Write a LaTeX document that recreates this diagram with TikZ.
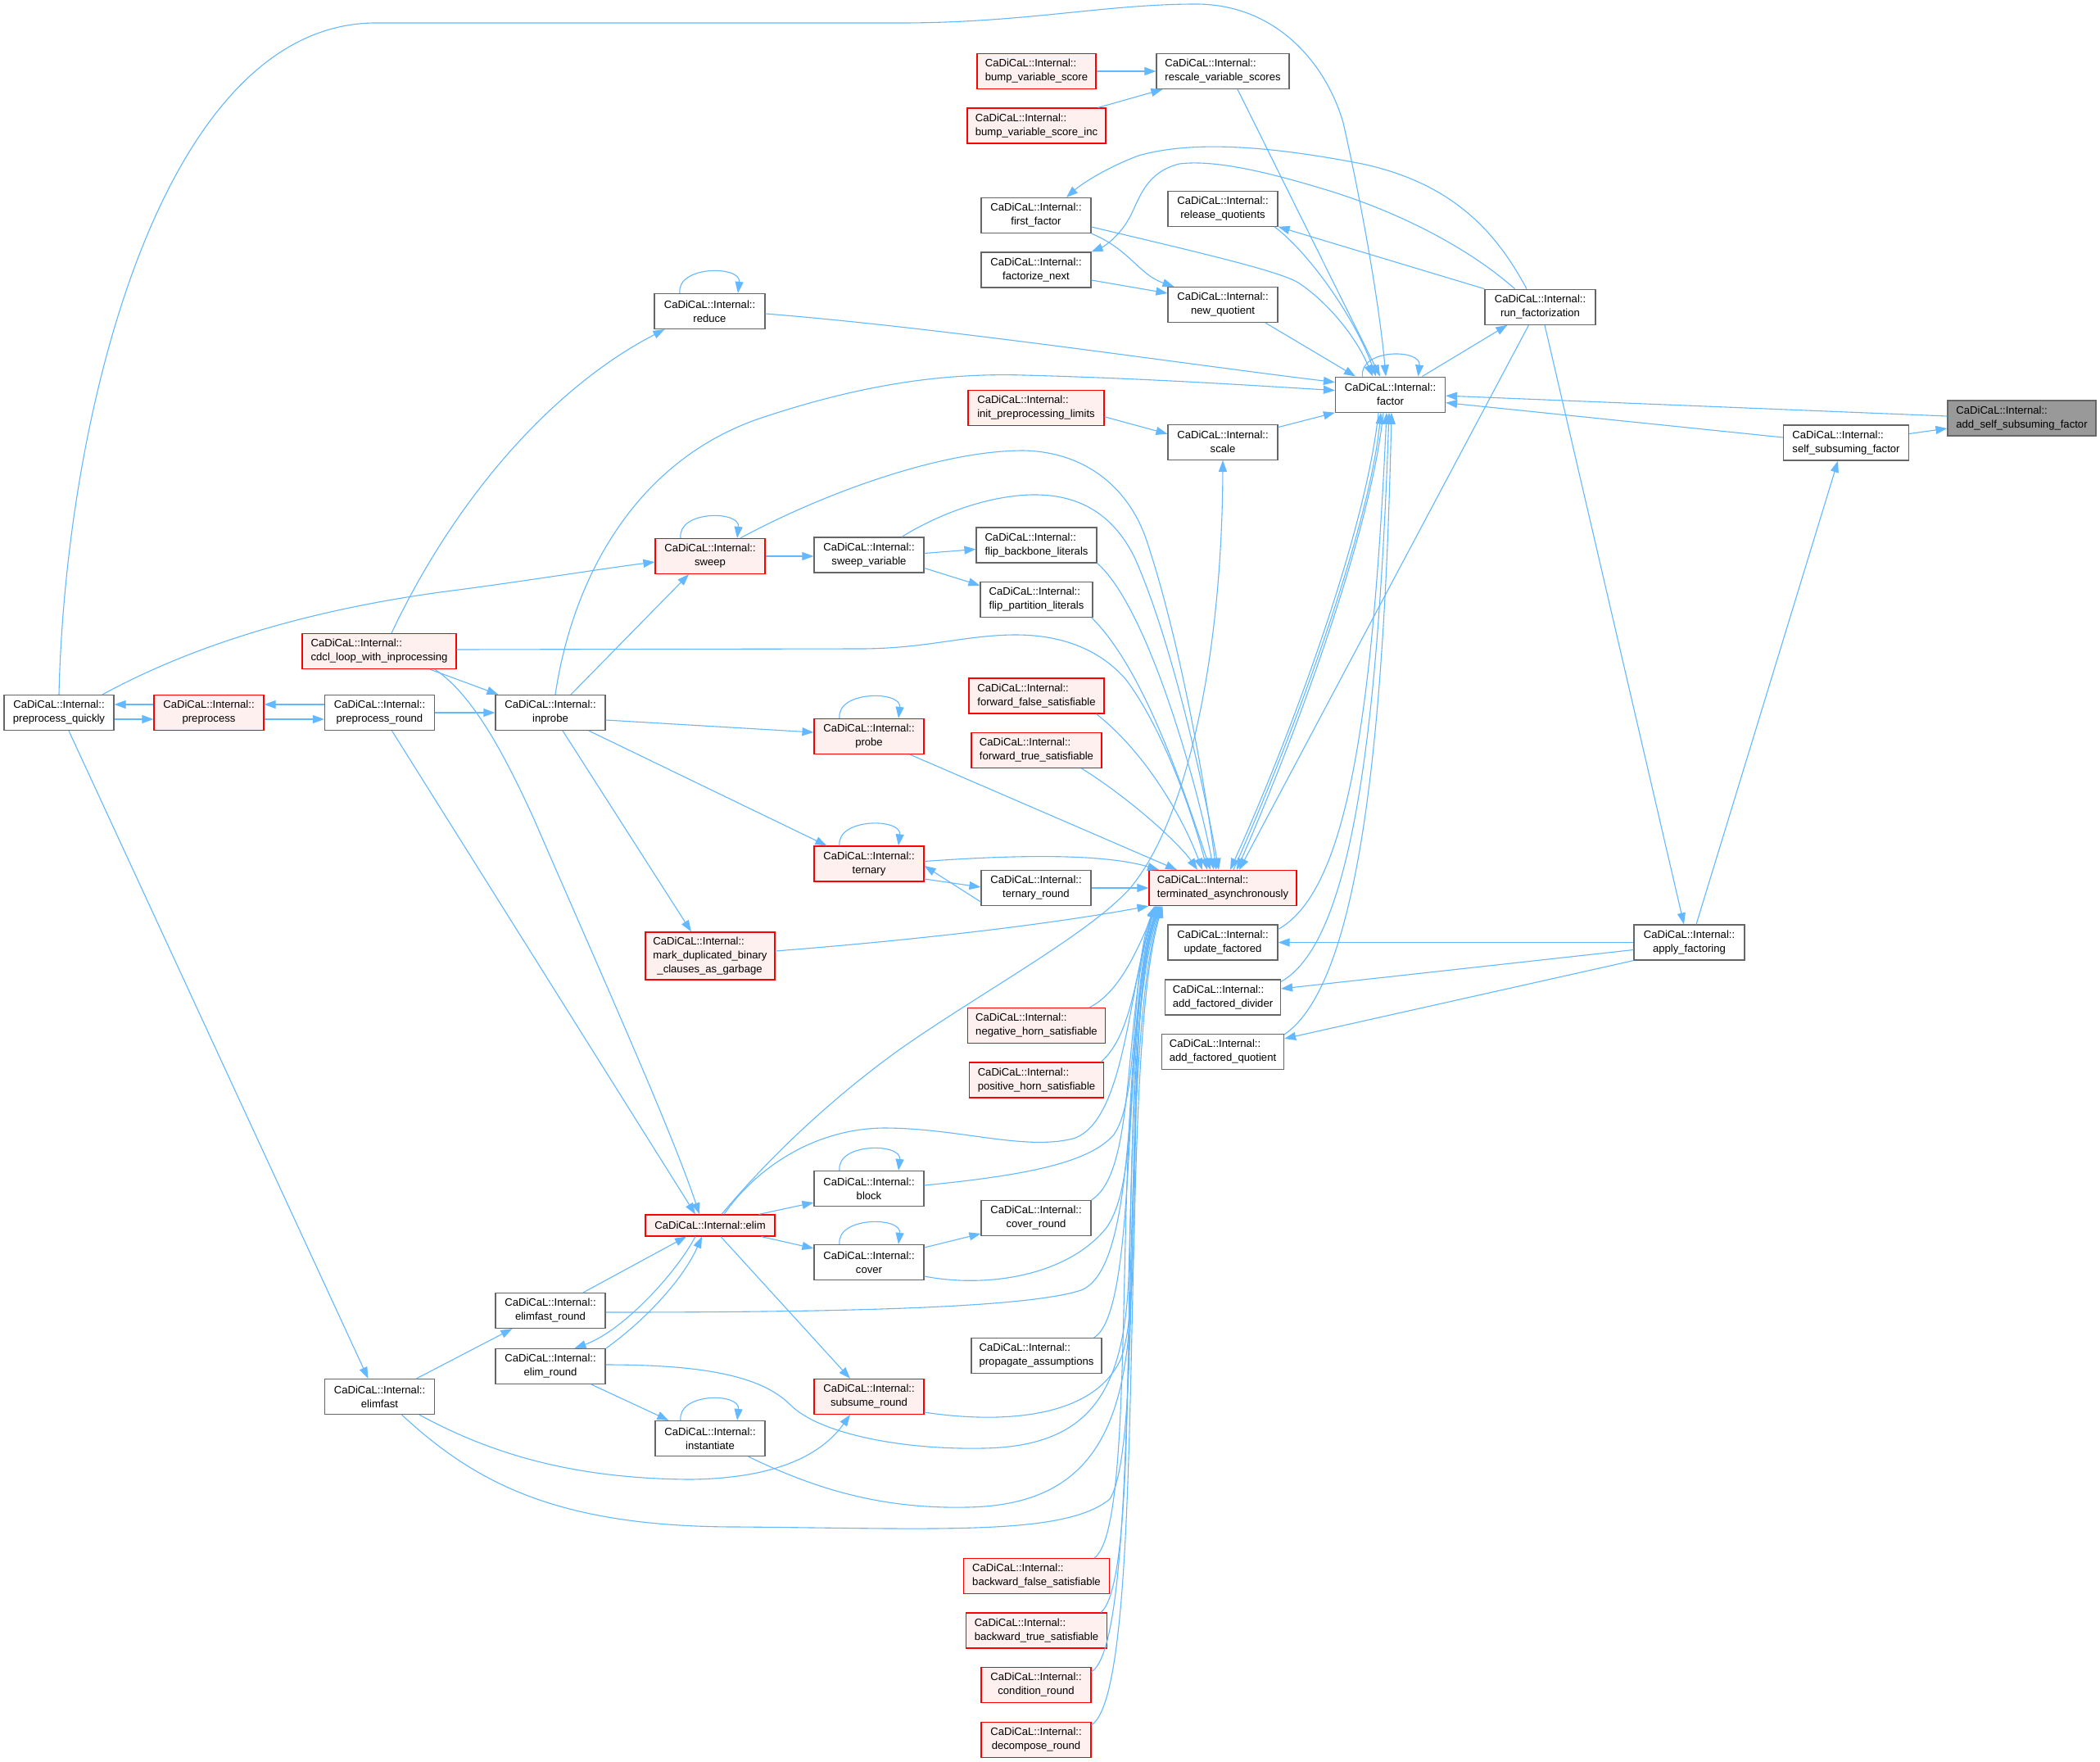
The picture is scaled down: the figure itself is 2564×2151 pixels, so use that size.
\documentclass[tikz,border=0pt]{standalone}
\usepackage{fontspec}
\setmainfont{Liberation Sans}
\usetikzlibrary{arrows.meta}
\definecolor{edgec}{HTML}{63B8FF}
\definecolor{grayb}{HTML}{666666}
\definecolor{redfill}{HTML}{FFF0F0}
\definecolor{rootfill}{HTML}{999999}
\begin{document}
\begin{tikzpicture}[x=1pt,y=-1pt,
  every node/.style={font=\fontsize{13.1}{17}\selectfont},
  nd/.style={draw=grayb, fill=white, line width=1.2pt, rectangle, inner xsep=4pt, inner ysep=0pt, minimum height=43pt, align=center},
  ndl/.style={nd, align=left},
  rd/.style={nd, draw=red, fill=redfill},
  rdl/.style={rd, align=left},
  rootl/.style={ndl, fill=rootfill},
  lnk/.style={draw=edgec, line width=1.1pt, -{Triangle[length=14pt,width=10pt]}},
]
\fill[white] (0,0) rectangle (2564,2151);
\useasboundingbox (0,0) rectangle (2564,2151);

% ---------- nodes ----------
\node[rootl, minimum width=181pt] (ASF) at (2468.5,510.5) {CaDiCaL::Internal::\\add\_self\_subsuming\_factor};
\node[ndl, minimum width=153pt] (SSF) at (2254,540.5) {CaDiCaL::Internal::\\self\_subsuming\_factor};
\node[nd, minimum width=135pt] (APP) at (2062.5,1150.5) {CaDiCaL::Internal::\\apply\_factoring};
\node[nd, minimum width=135pt] (RUN) at (1880.5,374.7) {CaDiCaL::Internal::\\run\_factorization};
\node[nd, minimum width=134pt] (FAC) at (1697.5,481.6) {CaDiCaL::Internal::\\factor};
\node[ndl, minimum width=162pt] (RES) at (1493,87) {CaDiCaL::Internal::\\rescale\_variable\_scores};
\node[nd, minimum width=134pt] (RQ) at (1493,254.7) {CaDiCaL::Internal::\\release\_quotients};
\node[nd, minimum width=134pt] (NQ) at (1493,372) {CaDiCaL::Internal::\\new\_quotient};
\node[nd, minimum width=134pt] (SCA) at (1493,539.7) {CaDiCaL::Internal::\\scale};
\node[rdl, minimum width=180pt] (TA) at (1493,1084) {CaDiCaL::Internal::\\terminated\_asynchronously};
\node[nd, minimum width=134pt] (UF) at (1493,1150.5) {CaDiCaL::Internal::\\update\_factored};
\node[ndl, minimum width=141pt] (AFD) at (1493,1217.5) {CaDiCaL::Internal::\\add\_factored\_divider};
\node[ndl, minimum width=149pt] (AFQ) at (1493,1284) {CaDiCaL::Internal::\\add\_factored\_quotient};
\node[rdl, minimum width=145pt] (BVS) at (1265.5,87) {CaDiCaL::Internal::\\bump\_variable\_score};
\node[rdl, minimum width=169pt] (BVI) at (1265.5,153.5) {CaDiCaL::Internal::\\bump\_variable\_score\_inc};
\node[nd, minimum width=134pt] (FF) at (1265,263) {CaDiCaL::Internal::\\first\_factor};
\node[nd, minimum width=134pt] (FN) at (1265,329.5) {CaDiCaL::Internal::\\factorize\_next};
\node[rdl, minimum width=166pt] (IPL) at (1265,497.8) {CaDiCaL::Internal::\\init\_preprocessing\_limits};
\node[ndl, minimum width=147pt] (FBL) at (1265.5,665.5) {CaDiCaL::Internal::\\flip\_backbone\_literals};
\node[ndl, minimum width=137pt] (FPL) at (1265.5,731.7) {CaDiCaL::Internal::\\flip\_partition\_literals};
\node[rdl, minimum width=165pt] (FFS) at (1265.5,849.5) {CaDiCaL::Internal::\\forward\_false\_satisfiable};
\node[rdl, minimum width=159pt] (FTS) at (1265.5,916) {CaDiCaL::Internal::\\forward\_true\_satisfiable};
\node[nd, minimum width=134pt] (TRR) at (1265,1084) {CaDiCaL::Internal::\\ternary\_round};
\node[rdl, minimum width=168pt] (NHS) at (1265.5,1252) {CaDiCaL::Internal::\\negative\_horn\_satisfiable};
\node[rdl, minimum width=164pt] (PHS) at (1265.5,1318.5) {CaDiCaL::Internal::\\positive\_horn\_satisfiable};
\node[nd, minimum width=134pt] (CVR) at (1265,1487) {CaDiCaL::Internal::\\cover\_round};
\node[ndl, minimum width=159pt] (PA) at (1265.5,1655) {CaDiCaL::Internal::\\propagate\_assumptions};
\node[rdl, minimum width=178pt] (BFS) at (1265.5,1924) {CaDiCaL::Internal::\\backward\_false\_satisfiable};
\node[rdl, minimum width=172pt] (BTS) at (1265.5,1990.5) {CaDiCaL::Internal::\\backward\_true\_satisfiable};
\node[rd, minimum width=134pt] (CON) at (1265,2057) {CaDiCaL::Internal::\\condition\_round};
\node[rd, minimum width=134pt] (DEC) at (1265,2124) {CaDiCaL::Internal::\\decompose\_round};
\node[nd, minimum width=134pt] (SWV) at (1061,677.5) {CaDiCaL::Internal::\\sweep\_variable};
\node[rd, minimum width=134pt] (PRB) at (1061,899) {CaDiCaL::Internal::\\probe};
\node[rd, minimum width=134pt] (TRN) at (1061,1054.5) {CaDiCaL::Internal::\\ternary};
\node[nd, minimum width=134pt] (BLK) at (1061,1451) {CaDiCaL::Internal::\\block};
\node[nd, minimum width=134pt] (COV) at (1061,1541) {CaDiCaL::Internal::\\cover};
\node[rd, minimum width=134pt] (SUB) at (1061,1705) {CaDiCaL::Internal::\\subsume\_round};
\node[nd, minimum width=135pt] (RED) at (866.5,380) {CaDiCaL::Internal::\\reduce};
\node[rd, minimum width=134pt] (SWP) at (867,679) {CaDiCaL::Internal::\\sweep};
\node[rdl, minimum width=158pt, minimum height=58pt] (MDB) at (867,1167) {CaDiCaL::Internal::\\mark\_duplicated\_binary\\\hspace*{5pt}\_clauses\_as\_garbage};
\node[rd, minimum width=158pt, minimum height=26pt] (ELIM) at (867,1496) {CaDiCaL::Internal::elim};
\node[nd, minimum width=134pt] (INS) at (867,1756) {CaDiCaL::Internal::\\instantiate};
\node[nd, minimum width=134pt] (INP) at (672,870) {CaDiCaL::Internal::\\inprobe};
\node[nd, minimum width=134pt] (EFR) at (672,1600) {CaDiCaL::Internal::\\elimfast\_round};
\node[nd, minimum width=134pt] (ELR) at (672,1668) {CaDiCaL::Internal::\\elim\_round};
\node[rdl, minimum width=188pt] (CDCL) at (463,795) {CaDiCaL::Internal::\\cdcl\_loop\_with\_inprocessing};
\node[nd, minimum width=134pt] (PRR) at (463.5,870) {CaDiCaL::Internal::\\preprocess\_round};
\node[nd, minimum width=134pt] (EF) at (463.5,1705) {CaDiCaL::Internal::\\elimfast};
\node[rd, minimum width=134pt] (PRE) at (255,870) {CaDiCaL::Internal::\\preprocess};
\node[nd, minimum width=134pt] (PQ) at (72,870) {CaDiCaL::Internal::\\preprocess\_quickly};

% ---------- edges: top right ----------
\draw[lnk] (BVS.east) -- (RES.west);
\draw[lnk] ([xshift=-10pt]BVI.north east) -- ([xshift=8pt]RES.south west);
\draw[lnk] ([xshift=18pt]RES.south) -- ([xshift=-12.5pt]FAC.north);
\draw[lnk] (PQ.north) .. controls (80,500) and (200,28) .. (459,28) -- (1100,28)
  .. controls (1250,28) and (1350,5) .. (1460,5)
  .. controls (1560,5) and (1620,80) .. (1640,150)
  .. controls (1665,260) and (1685,380) .. ([xshift=-5.5pt]FAC.north);
\draw[lnk] ([yshift=-3pt]RED.east) .. controls (1150,400) and (1450,445) .. ([yshift=15pt]FAC.west);
\draw[lnk] ([xshift=6pt]INP.north) .. controls (700,700) and (780,560) .. (930,510)
  .. controls (1050,470) and (1150,455) .. (1250,458)
  .. controls (1400,462) and (1520,470) .. ([yshift=5pt]FAC.west);
\draw[lnk] ([yshift=-14pt]FF.east) .. controls (1450,305) and (1560,330) .. (1585,345)
  .. controls (1620,368) and (1655,410) .. ([xshift=-21.5pt]FAC.north);
\draw[lnk] ([xshift=52pt]NQ.south) -- ([xshift=-42.5pt]FAC.north);
\draw[lnk] ([xshift=63pt]RQ.south) .. controls (1600,310) and (1655,390) .. ([xshift=-17.5pt]FAC.north);
\draw[lnk] (RUN.north west) -- (RQ.south east);
\draw[lnk] ([xshift=-16.5pt]RUN.north) .. controls (1830,290) and (1780,225) .. (1663,200)
  .. controls (1560,180) and (1460,170) .. (1390,190)
  .. controls (1350,205) and (1320,225) .. ([xshift=37pt]FF.north);
\draw[lnk] ([xshift=-31pt]RUN.north) .. controls (1790,300) and (1700,255) .. (1610,229)
  .. controls (1540,208) and (1480,195) .. (1440,200)
  .. controls (1400,210) and (1392,240) .. (1381,262)
  .. controls (1370,285) and (1350,300) .. (FN.north east);
\draw[lnk] (FF.south east) .. controls (1380,305) and (1390,335) .. ([xshift=8pt]NQ.north west);
\draw[lnk] ([yshift=-12.5pt]FN.east) -- ([yshift=14pt]NQ.west);
\draw[lnk] ([xshift=-34pt]FAC.north) .. controls +(-4,-34) and +(4,-34) .. ([xshift=34pt]FAC.north);
\draw[lnk] ([xshift=39pt]FAC.north) -- ([xshift=28pt]RUN.south west);
\draw[lnk] ([yshift=2.5pt]ASF.west) -- ([yshift=-1.5pt]FAC.east);
\draw[lnk] ([yshift=6.5pt]SSF.west) -- ([yshift=-10pt]FAC.east);
\draw[lnk] ([yshift=11pt]SSF.east) -- ([yshift=-12.5pt]ASF.west);
\draw[lnk] ([xshift=8.5pt]APP.north) -- ([xshift=-10pt]SSF.south);
\draw[lnk] ([xshift=5.5pt]RUN.south) -- ([xshift=-6.5pt]APP.north);
\draw[lnk] ([xshift=-14pt]RUN.south) -- ([xshift=20pt]TA.north);
\draw[lnk] (APP.west) -- (UF.east);
\draw[lnk] ([yshift=-9pt]APP.west) -- ([yshift=10.5pt]AFD.east);
\draw[lnk] (APP.south west) -- ([yshift=16pt]AFQ.east);
\draw[lnk] ([yshift=-6pt]UF.north east) .. controls (1640,1090) and (1675,900) .. ([xshift=-4.5pt]FAC.south);
\draw[lnk] ([yshift=-3pt]AFD.north east) .. controls (1650,1150) and (1682,900) .. ([xshift=-1.5pt]FAC.south);
\draw[lnk] ([yshift=-1pt]AFQ.north east) .. controls (1660,1200) and (1690,900) .. ([xshift=1.5pt]FAC.south);
\draw[lnk] ([xshift=-14.5pt]FAC.south) .. controls (1668,650) and (1575,900) .. ([xshift=9pt]TA.north);
\draw[lnk] ([xshift=13pt]TA.north) .. controls (1578,900) and (1671,650) .. ([xshift=-11.5pt]FAC.south);
\draw[lnk] ([xshift=-8.5pt]FAC.south) .. controls (1674,650) and (1581,900) .. ([xshift=17pt]TA.north);
\draw[lnk] ([yshift=-11pt]IPL.east) -- ([yshift=10pt]SCA.west);
\draw[lnk] ([yshift=-4pt]SCA.north east) -- (FAC.south west);
\draw[lnk] ([xshift=14pt]ELIM.north) .. controls (950,1400) and (1030,1330) .. (1100,1280)
  .. controls (1200,1210) and (1330,1140) .. (1380,1084)
  .. controls (1450,1000) and (1492,800) .. (SCA.south);

% ---------- edges: left part ----------
\draw[lnk] ([xshift=25pt]INP.north) -- ([xshift=-26pt]SWP.south);
\draw[lnk] ([xshift=53pt]PQ.north) .. controls (250,780) and (400,740) .. (560,720)
  .. controls (650,708) and (730,695) .. ([yshift=-7pt]SWP.west);
\draw[lnk] ([xshift=-36pt]SWP.north) .. controls +(-4,-34) and +(4,-34) .. ([xshift=33pt]SWP.north);
\draw[lnk] (SWP.east) -- ([yshift=-1.5pt]SWV.west);
\draw[lnk] ([yshift=2pt]SWV.east) -- ([yshift=-5pt]FBL.west);
\draw[lnk] ([yshift=-16pt]SWV.east) -- ([yshift=17pt]FPL.west);
\draw[lnk] ([xshift=15pt]CDCL.north) .. controls (560,600) and (680,470) .. ([xshift=13pt]RED.south west);
\draw[lnk] ([xshift=-36.5pt]RED.north) .. controls +(-4,-34) and +(4,-34) .. ([xshift=34.5pt]RED.north);
\draw[lnk] ([xshift=62pt]CDCL.south) -- ([xshift=4pt]INP.north west);
\draw[lnk] ([xshift=68pt]CDCL.south) .. controls (580,850) and (620,930) .. (652,1000)
  .. controls (730,1180) and (820,1380) .. ([xshift=-13pt]ELIM.north);
\draw[lnk] (PRR.east) -- (INP.west);
\draw[lnk] ([yshift=10pt]PRR.west) -- ([yshift=10pt]PRE.east);
\draw[lnk] ([yshift=-8pt]PRE.east) -- ([yshift=-8pt]PRR.west);
\draw[lnk] ([yshift=10pt]PRE.west) -- ([yshift=10pt]PQ.east);
\draw[lnk] ([yshift=-8pt]PQ.east) -- ([yshift=-8pt]PRE.west);
\draw[lnk] ([xshift=15pt]PRR.south) -- ([xshift=-18pt]ELIM.north);
\draw[lnk] ([xshift=12pt]PQ.south) -- ([xshift=-14pt]EF.north);
\draw[lnk] ([yshift=-9pt]INP.east) -- ([yshift=5pt]PRB.west);
\draw[lnk] ([xshift=47pt]INP.south) -- ([xshift=16pt]TRN.north west);
\draw[lnk] ([xshift=15pt]INP.south) -- ([xshift=-23pt]MDB.north);
\draw[lnk] ([xshift=-36pt]PRB.north) .. controls +(-4,-34) and +(4,-34) .. ([xshift=36pt]PRB.north);
\draw[lnk] ([xshift=-36pt]TRN.north) .. controls +(-4,-34) and +(4,-34) .. ([xshift=36pt]TRN.north);
\draw[lnk] ([yshift=-17pt]TRR.west) -- ([yshift=-2.5pt]TRN.east);
\draw[lnk] ([yshift=-18.5pt]TRN.east) -- ([yshift=1pt]TRR.west);
\draw[lnk] (TRR.east) -- (TA.west);

% ---------- edges: into terminated from above ----------
\draw[lnk] ([xshift=37pt]SWP.north) .. controls (990,610) and (1140,550) .. (1250,550)
  .. controls (1330,552) and (1380,600) .. (1400,660)
  .. controls (1440,780) and (1470,950) .. ([xshift=-8pt]TA.north);
\draw[lnk] ([xshift=40pt]SWV.north) .. controls (1150,625) and (1210,605) .. (1260,604)
  .. controls (1320,603) and (1360,630) .. (1385,680)
  .. controls (1430,780) and (1470,960) .. ([xshift=-5pt]TA.north);
\draw[lnk] (FBL.south east) .. controls (1400,740) and (1460,950) .. ([xshift=-11pt]TA.north);
\draw[lnk] ([xshift=-2pt]FPL.south east) .. controls (1400,820) and (1450,980) .. ([xshift=-15pt]TA.north);
\draw[lnk] ([yshift=2pt]CDCL.east) -- (1050,792) .. controls (1130,792) and (1180,775) .. (1240,775)
  .. controls (1300,775) and (1345,795) .. (1375,830)
  .. controls (1420,890) and (1455,990) .. ([xshift=-19pt]TA.north);
\draw[lnk] ([xshift=-10pt]FFS.south east) .. controls (1400,920) and (1445,1000) .. ([xshift=-25pt]TA.north);
\draw[lnk] ([xshift=-25pt]FTS.south east) .. controls (1380,975) and (1440,1030) .. ([xshift=-31pt]TA.north);
\draw[lnk] ([xshift=50pt]PRB.south) -- ([xshift=-56pt]TA.north);
\draw[lnk] ([yshift=3pt]TRN.east) .. controls (1220,1045) and (1340,1040) .. ([xshift=-78pt]TA.north);
\draw[lnk] ([yshift=6pt]MDB.east) .. controls (1150,1145) and (1300,1125) .. (TA.south west);

% ---------- edges: into terminated from below ----------
\draw[lnk] ([xshift=-20pt]NHS.north east) .. controls (1370,1210) and (1392,1150) .. ([xshift=10pt]TA.south west);
\draw[lnk] ([xshift=-4pt]PHS.north east) .. controls (1385,1262) and (1388,1170) .. ([xshift=9pt]TA.south west);
\draw[lnk] ([yshift=4pt]BLK.east) .. controls (1250,1435) and (1330,1420) .. (1360,1385)
  .. controls (1392,1340) and (1380,1180) .. ([xshift=8pt]TA.south west);
\draw[lnk] (CVR.north east) .. controls (1388,1430) and (1370,1250) .. ([xshift=7pt]TA.south west);
\draw[lnk] ([yshift=-17pt]COV.east) .. controls (1200,1572) and (1300,1560) .. (1350,1500)
  .. controls (1395,1440) and (1372,1250) .. ([xshift=8pt]TA.south west);
\draw[lnk] ([xshift=17pt]ELIM.north) .. controls (920,1430) and (990,1378) .. (1079,1377)
  .. controls (1170,1377) and (1250,1405) .. (1310,1390)
  .. controls (1375,1370) and (1378,1200) .. ([xshift=9pt]TA.south west);
\draw[lnk] ([yshift=-2pt]EFR.east) .. controls (1000,1602) and (1250,1598) .. (1320,1575)
  .. controls (1395,1545) and (1370,1250) .. ([xshift=10pt]TA.south west);
\draw[lnk] ([xshift=-10pt]PA.north east) .. controls (1392,1600) and (1368,1250) .. ([xshift=11pt]TA.south west);
\draw[lnk] ([yshift=-19pt]SUB.east) .. controls (1200,1735) and (1330,1740) .. (1368,1660)
  .. controls (1400,1580) and (1370,1250) .. ([xshift=12pt]TA.south west);
\draw[lnk] ([yshift=2pt]ELR.east) .. controls (860,1666) and (930,1680) .. (965,1715)
  .. controls (1000,1750) and (1100,1770) .. (1200,1768)
  .. controls (1330,1766) and (1372,1700) .. (1378,1560)
  .. controls (1384,1350) and (1385,1190) .. ([xshift=12pt]TA.south west);
\draw[lnk] ([xshift=-21pt]INS.south east) .. controls (1000,1820) and (1080,1842) .. (1180,1840)
  .. controls (1320,1838) and (1372,1760) .. (1380,1600)
  .. controls (1388,1350) and (1386,1190) .. ([xshift=13pt]TA.south west);
\draw[lnk] ([xshift=27pt]EF.south) .. controls (580,1810) and (680,1864) .. (900,1864)
  .. controls (1150,1866) and (1300,1875) .. (1355,1830)
  .. controls (1400,1760) and (1365,1250) .. ([xshift=14pt]TA.south west);
\draw[lnk] ([xshift=-19pt]BFS.north east) .. controls (1395,1860) and (1350,1300) .. ([xshift=14pt]TA.south west);
\draw[lnk] ([xshift=-8pt]BTS.north east) .. controls (1402,1920) and (1355,1300) .. ([xshift=15pt]TA.south west);
\draw[lnk] ([yshift=-6pt]CON.north east) .. controls (1400,2000) and (1360,1300) .. ([xshift=16pt]TA.south west);
\draw[lnk] ([yshift=-4pt]DEC.north east) .. controls (1405,2060) and (1362,1300) .. ([xshift=17pt]TA.south west);

% ---------- edges: elim area ----------
\draw[lnk] ([xshift=-20pt]ELIM.north east) -- ([yshift=-17pt]BLK.west);
\draw[lnk] ([xshift=-17pt]ELIM.south east) -- ([yshift=17pt]COV.west);
\draw[lnk] ([xshift=-36pt]BLK.north) .. controls +(-4,-34) and +(4,-34) .. ([xshift=36pt]BLK.north);
\draw[lnk] ([xshift=-36pt]COV.north) .. controls +(-4,-34) and +(4,-34) .. ([xshift=36pt]COV.north);
\draw[lnk] ([yshift=18pt]COV.east) -- ([yshift=-19pt]CVR.west);
\draw[lnk] ([xshift=13pt]ELIM.south) -- ([xshift=-23pt]SUB.north);
\draw[lnk] ([xshift=40pt]EFR.north) -- ([xshift=-29pt]ELIM.south);
\draw[lnk] ([xshift=-18pt]ELIM.south) .. controls (825,1555) and (760,1625) .. ([xshift=29.5pt]ELR.north);
\draw[lnk] ([xshift=68pt]ELR.north) .. controls (790,1610) and (835,1560) .. ([xshift=-10pt]ELIM.south);
\draw[lnk] ([xshift=45pt]EF.north) -- ([xshift=21pt]EFR.south west);
\draw[lnk] ([xshift=50pt]ELR.south) -- ([xshift=17pt]INS.north west);
\draw[lnk] ([xshift=-36pt]INS.north) .. controls +(-4,-34) and +(4,-34) .. ([xshift=33pt]INS.north);
\draw[lnk] ([xshift=48.5pt]EF.south) .. controls (600,1775) and (700,1805) .. (842,1806)
  .. controls (940,1805) and (1000,1780) .. ([xshift=-23pt]SUB.south);
\end{tikzpicture}
\end{document}
